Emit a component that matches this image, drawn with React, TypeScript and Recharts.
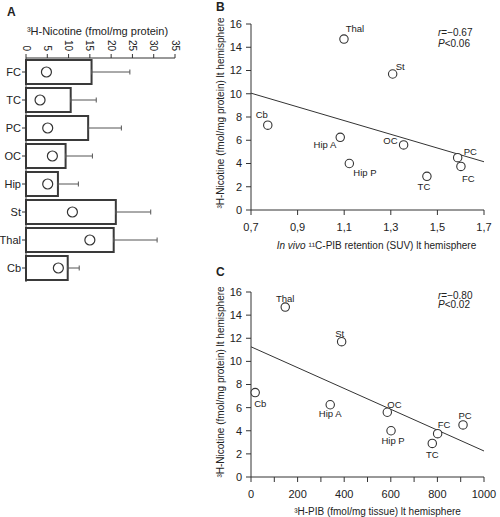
import React from 'react';
import {
  ComposedChart,
  Bar,
  Line,
  ErrorBar,
  XAxis,
  YAxis,
  ScatterChart,
  Scatter,
  ReferenceLine,
} from 'recharts';

const FONT = '"Liberation Sans", Arial, Helvetica, sans-serif';
const INK = '#333';
const TEXT = '#222';

// Panel A: 3H-nicotine binding per region (mean, SD, lt hemisphere value)
const regions = ['FC', 'TC', 'PC', 'OC', 'Hip', 'St', 'Thal', 'Cb'];
const meanBinding = [15.4, 10.5, 14.6, 9.3, 7.5, 21.1, 20.6, 9.8];
const sdBinding = [9.0, 6.0, 7.8, 6.3, 4.8, 8.2, 10.2, 2.7];
const ltBinding = [4.8, 3.3, 5.1, 6.2, 5.1, 10.9, 15.0, 7.6];
const bindingTicks = [0, 5, 10, 15, 20, 25, 30, 35];

// Panels B and C: lt hemisphere values per region
const scatterRegions = ['Thal', 'St', 'Cb', 'Hip A', 'OC', 'Hip P', 'TC', 'PC', 'FC'];
const nicotineLt = [14.7, 11.7, 7.3, 6.25, 5.6, 4.0, 2.9, 4.5, 3.75];
const pibSuvLt = [1.099, 1.308, 0.772, 1.083, 1.355, 1.122, 1.455, 1.587, 1.601];
const pibTissueLt = [147, 389, 18, 340, 585, 601, 778, 910, 801];

const nicotineTicks = [0, 2, 4, 6, 8, 10, 12, 14, 16];
const suvTicks = [0.7, 0.9, 1.1, 1.3, 1.5, 1.7];
const tissueTicks = [0, 100, 200, 300, 400, 500, 600, 700, 800, 900, 1000];

// regression lines (end points)
const fitBx = [0.7, 1.7];
const fitBy = [10.05, 4.15];
const fitCx = [0, 1000];
const fitCy = [11.26, 2.25];

const barData = regions.map((name, i) => ({
  name,
  mean: meanBinding[i],
  err: [0, sdBinding[i]],
  lt: ltBinding[i],
}));
const dataB = scatterRegions.map((name, i) => ({ name, x: pibSuvLt[i], y: nicotineLt[i] }));
const dataC = scatterRegions.map((name, i) => ({ name, x: pibTissueLt[i], y: nicotineLt[i] }));

type Pos = { dx: number; dy: number; anchor: 'start' | 'middle' | 'end' };
const labelPosB: Record<string, Pos> = {
  Thal: { dx: 11, dy: -10, anchor: 'middle' },
  St: { dx: 3, dy: -7, anchor: 'start' },
  Cb: { dx: -6, dy: -10, anchor: 'middle' },
  'Hip A': { dx: -4, dy: 7, anchor: 'end' },
  OC: { dx: -6, dy: -4, anchor: 'end' },
  'Hip P': { dx: 4, dy: 9, anchor: 'start' },
  TC: { dx: -3, dy: 10, anchor: 'middle' },
  PC: { dx: 6, dy: -6, anchor: 'start' },
  FC: { dx: 1, dy: 12, anchor: 'start' },
};
const labelPosC: Record<string, Pos> = {
  Thal: { dx: 0, dy: -8, anchor: 'middle' },
  St: { dx: -2, dy: -8, anchor: 'middle' },
  Cb: { dx: -1, dy: 11, anchor: 'start' },
  'Hip A': { dx: 0, dy: 9, anchor: 'middle' },
  OC: { dx: 0, dy: -8, anchor: 'start' },
  'Hip P': { dx: 2, dy: 10, anchor: 'middle' },
  TC: { dx: 0, dy: 11, anchor: 'middle' },
  FC: { dx: 0, dy: -9, anchor: 'start' },
  PC: { dx: 2, dy: -9, anchor: 'middle' },
};

const tickStyle = { fontSize: 11, fill: TEXT, fontFamily: FONT };

const TopTick = (props: any) => {
  const { x, y, payload } = props;
  return (
    <g transform={`translate(${x},${y})`}>
      <text transform="rotate(90)" textAnchor="end" dy="0.35em" fontSize={10} style={{ fill: TEXT }} fontFamily={FONT}>
        {payload.value}
      </text>
    </g>
  );
};

const pointShape = (pos: Record<string, Pos>) => (props: any) => {
  const { cx, cy, payload } = props;
  const p = pos[payload.name];
  return (
    <g>
      <circle cx={cx} cy={cy} r={4.2} fill="#fff" stroke={INK} strokeWidth={1.1} />
      <text
        x={cx + p.dx}
        y={cy + p.dy}
        dy="0.35em"
        textAnchor={p.anchor}
        fontSize={9.5}
        style={{ fill: TEXT, stroke: 'none' }}
        fontFamily={FONT}
      >
        {payload.name}
      </text>
    </g>
  );
};

const yTitle = (shift: number) => (props: any) => {
  const { y, height } = props.viewBox;
  const cy = y + height / 2 + shift;
  return (
    <text
      transform={`translate(44,${cy}) rotate(-90)`}
      textAnchor="middle"
      fontSize={10}
      style={{ fill: TEXT }}
      fontFamily={FONT}
    >
      ³H-Nicotine (fmol/mg protein) lt hemisphere
    </text>
  );
};

const App = () => {
  return (
    <div style={{ position: 'absolute', left: 0, top: 0, width: 500, height: 517, background: '#fff' }}>
      <div style={{ position: 'absolute', left: 0, top: 0 }}>
        <ComposedChart
          width={185}
          height={290}
          layout="vertical"
          data={barData}
          margin={{ top: 38, right: 10, bottom: 8, left: 0 }}
        >
          <XAxis
            type="number"
            orientation="top"
            domain={[0, 35]}
            ticks={bindingTicks}
            height={20}
            tickSize={4}
            tickMargin={3}
            tick={<TopTick />}
            stroke={INK}
            label={{
              content: (props: any) => {
                const { x, width, y } = props.viewBox;
                return (
                  <text x={x + width / 2 - 3} y={y - 3} textAnchor="middle" fontSize={11} style={{ fill: TEXT }} fontFamily={FONT}>
                    ³H-Nicotine (fmol/mg protein)
                  </text>
                );
              },
            }}
          />
          <YAxis
            type="category"
            dataKey="name"
            width={26}
            tickSize={4}
            tickMargin={1}
            tick={tickStyle}
            stroke={INK}
          />
          <Bar dataKey="mean" fill="#fff" stroke="#3a3a3a" strokeWidth={2} barSize={24} isAnimationActive={false}>
            <ErrorBar dataKey="err" direction="x" width={2.5} stroke="#555" strokeWidth={1} />
          </Bar>
          <Line
            dataKey="lt"
            stroke="none"
            dot={{ r: 5, fill: '#fff', stroke: INK, strokeWidth: 1.2 }}
            activeDot={false}
            isAnimationActive={false}
          />
        </ComposedChart>
      </div>

      <div style={{ position: 'absolute', left: 180, top: 0 }}>
        <ScatterChart width={320} height={260} margin={{ top: 24, right: 16, bottom: 0, left: 0 }}>
          <XAxis
            type="number"
            dataKey="x"
            domain={[0.7, 1.7]}
            ticks={suvTicks}
            height={50}
            tickSize={5}
            tickMargin={8}
            tick={tickStyle}
            stroke={INK}
            tickFormatter={(v: number) => v.toFixed(1).replace('.', ',')}
            label={{
              content: (props: any) => {
                const { x, width, y } = props.viewBox;
                return (
                  <text x={x + width / 2 + 9} y={y + 39} textAnchor="middle" fontSize={10} style={{ fill: TEXT }} fontFamily={FONT}>
                    <tspan fontStyle="italic">In vivo</tspan> ¹¹C-PIB retention (SUV) lt hemisphere
                  </text>
                );
              },
            }}
          />
          <YAxis
            type="number"
            dataKey="y"
            domain={[0, 16]}
            ticks={nicotineTicks}
            width={71}
            tickSize={5}
            tickMargin={4}
            tick={tickStyle}
            stroke={INK}
            label={{ content: yTitle(-4) }}
          />
          <ReferenceLine
            segment={[
              { x: fitBx[0], y: fitBy[0] },
              { x: fitBx[1], y: fitBy[1] },
            ]}
            stroke={INK}
            strokeWidth={1}
            ifOverflow="visible"
          />
          <Scatter data={dataB} shape={pointShape(labelPosB)} isAnimationActive={false} />
        </ScatterChart>
      </div>

      <div style={{ position: 'absolute', left: 180, top: 260 }}>
        <ScatterChart width={320} height={257} margin={{ top: 32, right: 16, bottom: 0, left: 0 }}>
          <XAxis
            type="number"
            dataKey="x"
            domain={[0, 1000]}
            ticks={tissueTicks}
            height={40}
            tickSize={5}
            tickMargin={8}
            tick={tickStyle}
            stroke={INK}
            interval={0}
            tickFormatter={(v: number) => (v % 200 === 0 ? String(v) : '')}
            label={{
              content: (props: any) => {
                const { x, width, y } = props.viewBox;
                return (
                  <text x={x + width / 2 + 10} y={y + 38} textAnchor="middle" fontSize={10} style={{ fill: TEXT }} fontFamily={FONT}>
                    ³H-PIB (fmol/mg tissue) lt hemisphere
                  </text>
                );
              },
            }}
          />
          <YAxis
            type="number"
            dataKey="y"
            domain={[0, 16]}
            ticks={nicotineTicks}
            width={71}
            tickSize={5}
            tickMargin={4}
            tick={tickStyle}
            stroke={INK}
            label={{ content: yTitle(-2.5) }}
          />
          <ReferenceLine
            segment={[
              { x: fitCx[0], y: fitCy[0] },
              { x: fitCx[1], y: fitCy[1] },
            ]}
            stroke={INK}
            strokeWidth={1}
            ifOverflow="visible"
          />
          <Scatter data={dataC} shape={pointShape(labelPosC)} isAnimationActive={false} />
        </ScatterChart>
      </div>

      <svg
        width={500}
        height={517}
        style={{ position: 'absolute', left: 0, top: 0, pointerEvents: 'none' }}
        fontFamily={FONT}
        fill={TEXT}
      >
        <text x={7} y={16} fontSize={12} fontWeight="bold">A</text>
        <text x={216} y={11} fontSize={12} fontWeight="bold">B</text>
        <text x={216} y={276} fontSize={12} fontWeight="bold">C</text>
        <text x={438} y={36} fontSize={10}>
          <tspan fontStyle="italic">r</tspan>=−0.67
        </text>
        <text x={438} y={47} fontSize={10}>
          <tspan fontStyle="italic">P</tspan>&lt;0.06
        </text>
        <text x={438} y={298.5} fontSize={10}>
          <tspan fontStyle="italic">r</tspan>=−0.80
        </text>
        <text x={438} y={308} fontSize={10}>
          <tspan fontStyle="italic">P</tspan>&lt;0.02
        </text>
      </svg>
    </div>
  );
};

export default App;
